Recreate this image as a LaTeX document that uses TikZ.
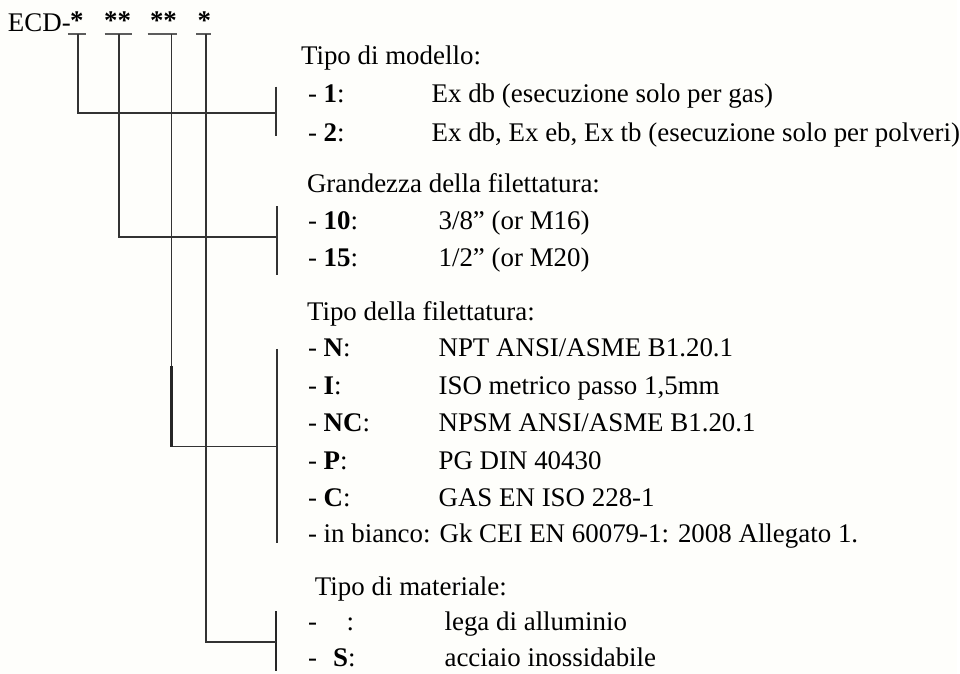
\documentclass[tikz,border=0pt]{standalone}
\usepackage{fontspec}
\setmainfont{Liberation Serif}
\usepackage{tikz}
\usetikzlibrary{positioning}
\definecolor{paper}{HTML}{FEFEFB}
\definecolor{ink}{HTML}{333333}

\begin{document}
\begin{tikzpicture}[x=0.5pt, y=-0.5pt,
    txt/.style={inner sep=0pt, outer sep=0pt, anchor=base west, font=\fontsize{13.5}{16}\selectfont},
    star/.style={txt, anchor=base, font=\fontsize{13.5}{16}\selectfont\bfseries},
    lead/.style={line width=0.9pt, draw=ink},
    heavy/.style={line width=1.1pt, draw=black!85},
    tick/.style={line width=0.7pt, draw=ink!80}]
    % sfondo e margini
    \fill[paper] (0,0) rectangle (960,676);

    % codice
    \node[txt] (ecd) at (8,32) {ECD-};
    \node[star] (s1) at (77,30) {*};
    \node[star] (s2) at (118,30) {**};
    \node[star] (s3) at (164,30) {**};
    \node[star] (s4) at (205,30) {*};

    % attacchi sotto gli asterischi
    \coordinate (t1) at (78,34);
    \coordinate (t2) at (119,34);
    \coordinate (t3) at (172,34);
    \coordinate (t4) at (207,34);
    \draw[tick] (t1) ++(-10,0) -- ++(18,0);
    \draw[tick] (t2) ++(-14,0) -- ++(27,0);
    \draw[tick] (t3) ++(-24,0) -- ++(30,0);
    \draw[tick] (t4) ++(-10,0) -- ++(15,0);

    % parentesi a destra
    \coordinate (j1) at (277,113);
    \coordinate (j2) at (278,238);
    \coordinate (j3) at (278,448);
    \coordinate (j4) at (277,644);
    \draw[lead] (277,87) -- (277,136);
    \draw[lead] (278,207) -- (278,276);
    \draw[lead] (278,350) -- (278,545);
    \draw[heavy] (277,613) -- (277,673);

    % collegamenti
    \draw[lead] (t1) |- (j1);
    \draw[lead] (t2) |- (j2);
    \draw[lead] (t3) |- (j3);
    \draw[lead] (t4) |- (j4);
    \draw[heavy] (172,367) -- (172,448);

    % Tipo di modello
    \node[txt] (h1) at (302,65) {Tipo di modello:};
    \node[txt] (k11) at (309,103) {- \textbf{1}:};
    \node[txt] (v11) at (433,103) {Ex db (esecuzione solo per gas)};
    \node[txt] (k12) at (309,142) {- \textbf{2}:};
    \node[txt] (v12) at (433,142) {Ex db, Ex eb, Ex tb (esecuzione solo per polveri)};

    % Grandezza della filettatura
    \node[txt] (h2) at (308,193) {Grandezza della filettatura:};
    \node[txt] (k21) at (309,230) {- \textbf{10}:};
    \node[txt] (v21) at (440,230) {3/8” (or M16)};
    \node[txt] (k22) at (309,267) {- \textbf{15}:};
    \node[txt] (v22) at (440,267) {1/2” (or M20)};

    % Tipo della filettatura
    \node[txt] (h3) at (308,322) {Tipo della filettatura:};
    \node[txt] (k31) at (309,358) {- \textbf{N}:};
    \node[txt] (v31) at (440,358) {NPT ANSI/ASME B1.20.1};
    \node[txt] (k32) at (309,396) {- \textbf{I}:};
    \node[txt] (v32) at (440,396) {ISO metrico passo 1,5mm};
    \node[txt] (k33) at (309,433) {- \textbf{NC}:};
    \node[txt] (v33) at (440,433) {NPSM ANSI/ASME B1.20.1};
    \node[txt] (k34) at (309,471) {- \textbf{P}:};
    \node[txt] (v34) at (440,471) {PG DIN 40430};
    \node[txt] (k35) at (309,508) {- \textbf{C}:};
    \node[txt] (v35) at (440,508) {GAS EN ISO 228-1};
    \node[txt] (k36) at (309,544) {- in bianco: Gk CEI EN 60079-1: 2008 Allegato 1.};

    % Tipo di materiale
    \node[txt] (h4) at (316,597) {Tipo di materiale:};
    \node[txt] (k41) at (309,633) {-\hspace{1.1em}:};
    \node[txt] (v41) at (446,633) {lega di alluminio};
    \node[txt] (k42) at (309,669) {-\hspace{0.6em}\textbf{S}:};
    \node[txt] (v42) at (446,669) {acciaio inossidabile};
\end{tikzpicture}
\end{document}
